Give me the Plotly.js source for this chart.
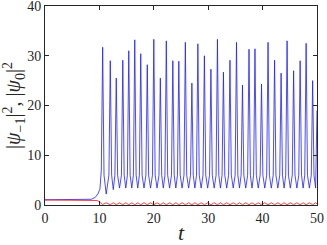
<!DOCTYPE html>
<html>
<head>
<meta charset="utf-8">
<script src="https://cdn.plot.ly/plotly-3.0.1.min.js"></script>
<style>html,body{margin:0;padding:0;background:#fff;}#chart{width:327px;height:245px;}</style>
</head>
<body>
<div id="chart"></div>
<script>
// |psi_-1|^2 (blue)
const tBlue = [0, 7.5, 8.5, 9.2, 9.7, 10.1, 10.35, 10.6, 10.85, 11.25,
  11.75, 12.0, 12.25, 12.55,
  12.85, 13.1, 13.35, 13.7,
  14.05, 14.3, 14.55, 14.85,
  15.15, 15.4, 15.65, 15.95,
  16.25, 16.5, 16.75, 17.05,
  17.35, 17.6, 17.85, 18.2,
  18.55, 18.8, 19.05, 19.4,
  19.75, 20.0, 20.25, 20.6,
  20.95, 21.2, 21.45, 21.75,
  22.05, 22.3, 22.55, 22.9,
  23.25, 23.5, 23.75, 24.05,
  24.35, 24.6, 24.85, 25.2,
  25.55, 25.8, 26.05, 26.4,
  26.75, 27.0, 27.25, 27.55,
  27.85, 28.1, 28.35, 28.7,
  29.05, 29.3, 29.55, 29.9,
  30.25, 30.5, 30.75, 31.1,
  31.45, 31.7, 31.95, 32.25,
  32.55, 32.8, 33.05, 33.4,
  33.75, 34.0, 34.25, 34.6,
  34.95, 35.2, 35.45, 35.75,
  36.05, 36.3, 36.55, 36.9,
  37.25, 37.5, 37.75, 38.05,
  38.35, 38.6, 38.85, 39.2,
  39.55, 39.8, 40.05, 40.4,
  40.75, 41.0, 41.25, 41.6,
  41.95, 42.2, 42.45, 42.8,
  43.15, 43.4, 43.65, 43.95,
  44.25, 44.5, 44.75, 45.1,
  45.45, 45.7, 45.95, 46.3,
  46.65, 46.9, 47.15, 47.45,
  47.75, 48.0, 48.25, 48.6,
  48.95, 49.2, 49.45, 49.75,
  50.0];
const yBlue = [1.05, 1.05, 1.15, 1.5, 2.2, 3.2, 7, 31.7, 6, 2.2,
  6, 29.0, 6, 3.1,
  6, 25.5, 6, 3.4,
  6, 29.1, 6, 3.4,
  6, 31.0, 6, 3.4,
  6, 33.2, 6, 3.4,
  6, 30.4, 6, 3.4,
  6, 28.2, 6, 3.4,
  6, 33.3, 6, 3.4,
  6, 25.5, 6, 3.4,
  6, 33.0, 6, 3.4,
  6, 29.0, 6, 3.4,
  6, 28.9, 6, 3.4,
  6, 32.7, 6, 3.4,
  6, 24.5, 6, 3.4,
  6, 32.4, 6, 3.4,
  6, 30.0, 6, 3.4,
  6, 27.3, 6, 3.4,
  6, 33.3, 6, 3.4,
  6, 26.7, 6, 3.4,
  6, 29.1, 6, 3.4,
  6, 32.7, 6, 3.4,
  6, 24.1, 6, 3.4,
  6, 31.3, 6, 3.4,
  6, 31.4, 6, 3.4,
  6, 24.3, 6, 3.4,
  6, 32.7, 6, 3.4,
  6, 29.1, 6, 3.4,
  6, 26.5, 6, 3.4,
  6, 33.0, 6, 3.4,
  6, 27.0, 6, 3.4,
  6, 29.0, 6, 3.4,
  6, 32.5, 6, 3.4,
  6, 25.0, 6, 3.4,
  19];

// |psi_0|^2 (red)
const tRed = [0, 9.0, 9.6, 10.1, 10.6, 11.25, 12.0, 12.55, 13.1, 13.7, 14.3, 14.85, 15.4, 15.95,
  16.5, 17.05, 17.6, 18.2, 18.8, 19.4, 20.0, 20.6, 21.2, 21.75, 22.3, 22.9, 23.5, 24.05,
  24.6, 25.2, 25.8, 26.4, 27.0, 27.55, 28.1, 28.7, 29.3, 29.9, 30.5, 31.1, 31.7, 32.25,
  32.8, 33.4, 34.0, 34.6, 35.2, 35.75, 36.3, 36.9, 37.5, 38.05, 38.6, 39.2, 39.8, 40.4,
  41.0, 41.6, 42.2, 42.8, 43.4, 43.95, 44.5, 45.1, 45.7, 46.3, 46.9, 47.45, 48.0, 48.6,
  49.2, 49.75, 50.0];
const yRed = [1.0, 1.0, 0.9, 0.55, 0.1, 0.45, 0.05, 0.45, 0.05, 0.45, 0.05, 0.45, 0.05, 0.45,
  0.05, 0.45, 0.05, 0.45, 0.05, 0.45, 0.05, 0.45, 0.05, 0.45, 0.05, 0.45, 0.05, 0.45,
  0.05, 0.45, 0.05, 0.45, 0.05, 0.45, 0.05, 0.45, 0.05, 0.45, 0.05, 0.45, 0.05, 0.45,
  0.05, 0.45, 0.05, 0.45, 0.05, 0.45, 0.05, 0.45, 0.05, 0.45, 0.05, 0.45, 0.05, 0.45,
  0.05, 0.45, 0.05, 0.45, 0.05, 0.45, 0.05, 0.45, 0.05, 0.45, 0.05, 0.45, 0.05, 0.45,
  0.05, 0.45, 0.2];

const xTicks = [0, 10, 20, 30, 40, 50];
const yTicks = [0, 10, 20, 30, 40];

const axisColor = '#262626';
const serif = '"Liberation Serif", "DejaVu Serif", serif';

const traces = [
  {x: tBlue, y: yBlue, type: 'scatter', mode: 'lines',
   line: {color: 'rgb(30,30,255)', width: 0.8}, hoverinfo: 'skip'},
  {x: tRed, y: yRed, type: 'scatter', mode: 'lines',
   line: {color: 'rgb(255,0,0)', width: 1}, opacity: 0.75, hoverinfo: 'skip'}
];

const layout = {
  width: 327, height: 245,
  margin: {l: 45, r: 10, t: 6, b: 40},
  paper_bgcolor: '#fff', plot_bgcolor: '#fff',
  showlegend: false,
  font: {family: serif, color: axisColor, size: 13},
  xaxis: {
    range: [0, 50], tickmode: 'array', tickvals: xTicks, ticktext: xTicks.map(String),
    ticks: 'inside', ticklen: 4, tickwidth: 1, tickcolor: axisColor,
    showline: true, linecolor: axisColor, linewidth: 1, mirror: 'ticks',
    showgrid: false, zeroline: false, ticklabeloverflow: 'allow',
    tickfont: {family: serif, size: 14, color: axisColor},
    title: {text: '<i>t</i>', font: {family: serif, size: 22, color: axisColor}, standoff: 2}
  },
  yaxis: {
    range: [0, 40], tickmode: 'array', tickvals: yTicks, ticktext: yTicks.map(String),
    ticks: 'inside', ticklen: 4, tickwidth: 1, tickcolor: axisColor,
    showline: true, linecolor: axisColor, linewidth: 1, mirror: 'ticks',
    showgrid: false, zeroline: false, ticklabeloverflow: 'allow',
    tickfont: {family: serif, size: 14, color: axisColor},
    title: {text: '|<i>ψ</i><sub>−1</sub>|<sup>2</sup>, |<i>ψ</i><sub>0</sub>|<sup>2</sup>',
            font: {family: serif, size: 20, color: axisColor}, standoff: 3}
  }
};

Plotly.newPlot('chart', traces, layout, {staticPlot: true, displayModeBar: false});
</script>
</body>
</html>
